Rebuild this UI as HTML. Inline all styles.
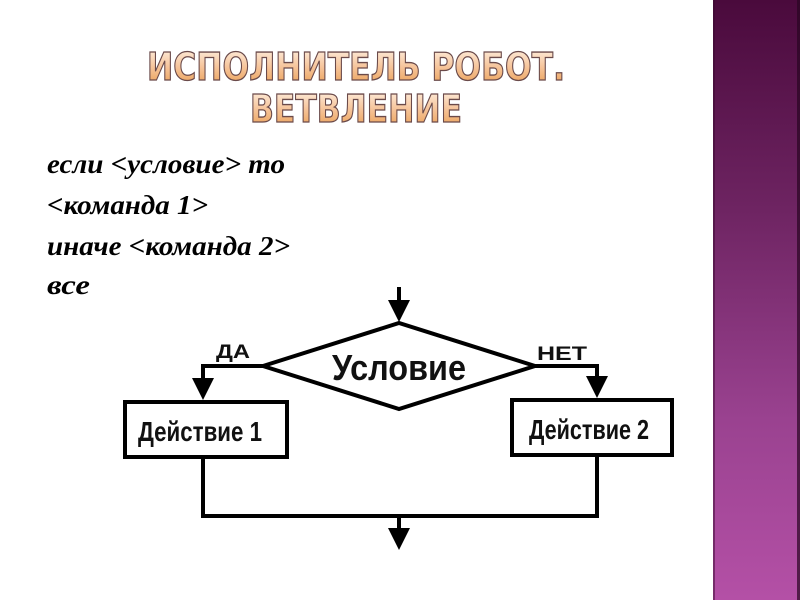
<!DOCTYPE html>
<html><head><meta charset="utf-8"><style>
html,body{margin:0;padding:0;background:#fff;width:800px;height:600px;overflow:hidden}
</style></head><body>
<svg width="800" height="600" viewBox="0 0 800 600" xmlns="http://www.w3.org/2000/svg">
<defs>
<linearGradient id="bar" x1="0" y1="0" x2="0" y2="1">
<stop offset="0" stop-color="#4a0a3c"/><stop offset="0.35" stop-color="#6e2462"/><stop offset="0.7" stop-color="#9a4290"/><stop offset="1" stop-color="#b450a6"/>
</linearGradient>
<linearGradient id="tg" x1="0" y1="0" x2="0" y2="1">
<stop offset="0" stop-color="#fff4e8"/><stop offset="0.5" stop-color="#f6c49a"/><stop offset="1" stop-color="#e89a4c"/>
</linearGradient>
</defs>
<rect x="713" y="0" width="87" height="600" fill="url(#bar)"/>
<rect x="713" y="0" width="2" height="600" fill="#3a0a30" opacity="0.5"/>
<rect x="797" y="0" width="3" height="600" fill="#2a0622" opacity="0.7"/>
<g font-family="DejaVu Sans, Liberation Sans, sans-serif" font-weight="bold" font-size="38" fill="url(#tg)" stroke="#6a4a4a" stroke-width="1.3" text-anchor="middle">
<text x="356" y="80" textLength="418" lengthAdjust="spacingAndGlyphs">ИСПОЛНИТЕЛЬ РОБОТ.</text>
<text x="356" y="122" textLength="212" lengthAdjust="spacingAndGlyphs">ВЕТВЛЕНИЕ</text>
</g>
<g font-family="Liberation Serif, serif" font-style="italic" font-weight="bold" font-size="27" fill="#000">
<text x="47" y="173" textLength="238" lengthAdjust="spacingAndGlyphs">если &lt;условие&gt; то</text>
<text x="47" y="214" textLength="161" lengthAdjust="spacingAndGlyphs">&lt;команда 1&gt;</text>
<text x="47" y="255" textLength="243" lengthAdjust="spacingAndGlyphs">иначе &lt;команда 2&gt;</text>
<text x="47" y="294" textLength="43" lengthAdjust="spacingAndGlyphs">все</text>
</g>
<g stroke="#000" stroke-width="4" fill="none">
<line x1="399" y1="287" x2="399" y2="305"/>
<polygon points="263,366 399,323 535,366 399,409" fill="#fff"/>
<polyline points="263,366 203,366 203,382"/>
<polyline points="535,366 597,366 597,380"/>
<rect x="125" y="402" width="162" height="55" fill="#fff"/>
<rect x="512" y="400" width="160" height="55" fill="#fff"/>
<polyline points="203,457 203,516 597,516 597,455"/>
<line x1="399" y1="516" x2="399" y2="530"/>
</g>
<g fill="#000">
<polygon points="388,300 410,300 399,322"/>
<polygon points="192,378 214,378 203,400"/>
<polygon points="586,376 608,376 597,398"/>
<polygon points="388,528 410,528 399,550"/>
</g>
<g font-family="Liberation Sans, DejaVu Sans, sans-serif" font-weight="bold" fill="#111">
<text x="216" y="358" font-size="19" textLength="34" lengthAdjust="spacingAndGlyphs">ДА</text>
<text x="537" y="360" font-size="19" textLength="50" lengthAdjust="spacingAndGlyphs">НЕТ</text>
<text x="399" y="380" font-size="36" text-anchor="middle" textLength="134" lengthAdjust="spacingAndGlyphs">Условие</text>
<text x="200" y="441" font-size="28" text-anchor="middle" textLength="124" lengthAdjust="spacingAndGlyphs">Действие 1</text>
<text x="589" y="439" font-size="28" text-anchor="middle" textLength="120" lengthAdjust="spacingAndGlyphs">Действие 2</text>
</g>
</svg>
</body></html>
